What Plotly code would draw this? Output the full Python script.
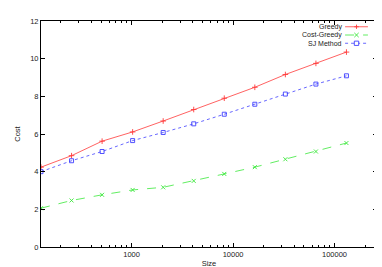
import plotly.graph_objects as go

sizes = [128, 256, 512, 1024, 2048, 4096, 8192, 16384, 32768, 65536, 131072]
greedy = [4.24, 4.85, 5.62, 6.11, 6.69, 7.30, 7.90, 8.48, 9.16, 9.75, 10.35]
cost_greedy = [2.06, 2.47, 2.77, 3.03, 3.17, 3.51, 3.88, 4.24, 4.66, 5.07, 5.52]
sj_method = [4.00, 4.58, 5.07, 5.65, 6.08, 6.54, 7.05, 7.58, 8.12, 8.65, 9.09]

series_names = ["Greedy", "Cost-Greedy", "SJ Method"]
series_values = [greedy, cost_greedy, sj_method]
series_colors = ["#ff3a3a", "#3ae83a", "#4040ff"]
series_dash = ["solid", "dash", "dot"]
series_symbols = ["cross-thin", "x-thin", "square-open"]

x_major = [1000, 10000, 100000]
x_labels = ["1000", "10000", "100000"]
x_minor = [m * d for d in (100, 1000, 10000, 100000) for m in range(2, 10)]
y_ticks = [0, 2, 4, 6, 8, 10, 12]

FONT = "Liberation Sans, Arial, sans-serif"
fig = go.Figure()
for name, vals, col, dash, sym in zip(series_names, series_values, series_colors, series_dash, series_symbols):
    fig.add_trace(go.Scatter(x=sizes, y=vals, name=name, mode="lines+markers",
                             line=dict(color=col, width=0.8, dash=dash),
                             marker=dict(symbol=sym, size=4, color=col, line=dict(color=col, width=0.9)),
                             showlegend=False))

# gnuplot-style key: text right-aligned, sample to its right
text_x, line_x0, line_x1 = 0.899, 0.905, 0.973
mark_x = (line_x0 + line_x1) / 2
row_y = [0.9745, 0.938, 0.9015]
mw, mh = 0.0065, 0.0095
for i, (name, col, dash, sym) in enumerate(zip(series_names, series_colors, series_dash, series_symbols)):
    y = row_y[i]
    fig.add_annotation(x=text_x, y=y, xref="paper", yref="paper", text=name, showarrow=False,
                       xanchor="right", yanchor="middle", borderpad=0,
                       font=dict(family=FONT, size=7, color="#222222"))
    fig.add_shape(type="line", xref="paper", yref="paper", x0=line_x0, x1=line_x1, y0=y, y1=y,
                  line=dict(color=col, width=0.8, dash=dash))
    if sym == "cross-thin":
        fig.add_shape(type="line", xref="paper", yref="paper", x0=mark_x - mw, x1=mark_x + mw, y0=y, y1=y,
                      line=dict(color=col, width=0.9))
        fig.add_shape(type="line", xref="paper", yref="paper", x0=mark_x, x1=mark_x, y0=y - mh, y1=y + mh,
                      line=dict(color=col, width=0.9))
    elif sym == "x-thin":
        fig.add_shape(type="line", xref="paper", yref="paper", x0=mark_x - mw, x1=mark_x + mw, y0=y - mh, y1=y + mh,
                      line=dict(color=col, width=0.9))
        fig.add_shape(type="line", xref="paper", yref="paper", x0=mark_x - mw, x1=mark_x + mw, y0=y + mh, y1=y - mh,
                      line=dict(color=col, width=0.9))
    else:
        fig.add_shape(type="rect", xref="paper", yref="paper", x0=mark_x - mw, x1=mark_x + mw, y0=y - mh, y1=y + mh,
                      line=dict(color=col, width=0.9), fillcolor="white")

fig.update_layout(
    width=382, height=267,
    margin=dict(l=33, r=13, t=9, b=23),
    paper_bgcolor="white", plot_bgcolor="white",
    font=dict(family=FONT, size=7.5, color="#222222"),
    showlegend=False,
)
fig.update_xaxes(type="log", range=[2.10721, 5.41854],
                 tickvals=x_major, ticktext=x_labels,
                 ticks="inside", ticklen=4, tickwidth=1, tickcolor="black",
                 minor=dict(tickvals=x_minor, ticks="inside", ticklen=2, tickcolor="black", showgrid=False),
                 showline=True, linecolor="black", linewidth=1, mirror="ticks",
                 showgrid=False, zeroline=False,
                 title=dict(text="Size", standoff=2, font=dict(size=7.5)))
fig.update_yaxes(range=[0, 12], tickvals=y_ticks,
                 ticks="inside", ticklen=4, tickwidth=1, tickcolor="black",
                 showline=True, linecolor="black", linewidth=1, mirror="ticks",
                 showgrid=False, zeroline=False,
                 title=dict(text="Cost", standoff=8, font=dict(size=7.5)))
fig.write_html("out.html")
